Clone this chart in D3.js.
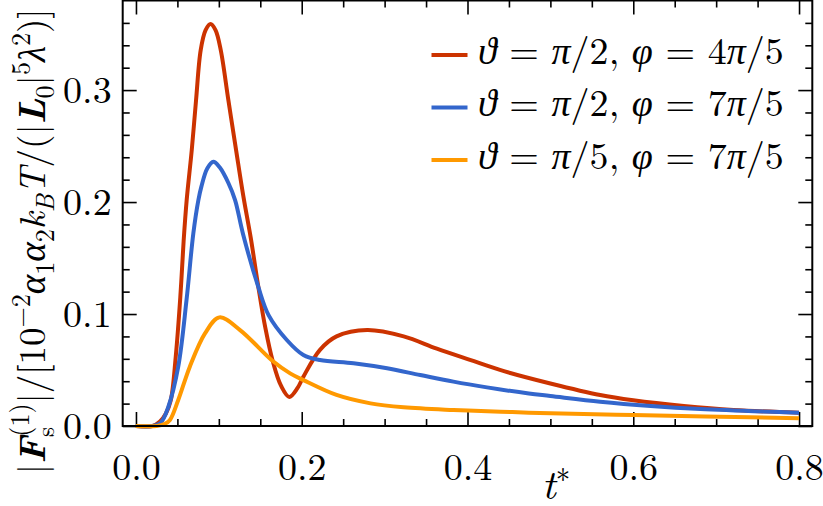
<!DOCTYPE html>
<html>
<head>
<meta charset="utf-8">
<script src="https://cdn.jsdelivr.net/npm/d3@7"></script>
<style>
  body { margin: 0; background: #fff; }
</style>
</head>
<body>
<script>
// values
const tRed = [0, 0.02, 0.029, 0.036, 0.042, 0.048, 0.0535, 0.0575, 0.0612, 0.0673, 0.0725, 0.0781, 0.084, 0.090, 0.096, 0.1023, 0.1115, 0.1208, 0.1296, 0.1385, 0.1477, 0.156, 0.165, 0.175, 0.185, 0.195, 0.202, 0.222, 0.242, 0.279, 0.323, 0.363, 0.403, 0.444, 0.5, 0.56, 0.6, 0.661, 0.721, 0.8]
const vRed = [0, 0, 0.004, 0.011, 0.023, 0.062, 0.115, 0.165, 0.2018, 0.2464, 0.291, 0.3357, 0.3535, 0.359, 0.3535, 0.3357, 0.291, 0.2464, 0.205, 0.168, 0.124, 0.088, 0.058, 0.036, 0.026, 0.034, 0.044, 0.068, 0.080, 0.0857, 0.080, 0.069, 0.059, 0.049, 0.038, 0.0277, 0.023, 0.0179, 0.0143, 0.0119]

const tBlue = [0, 0.02, 0.03, 0.039, 0.051, 0.061, 0.0692, 0.0753, 0.079, 0.086, 0.0934, 0.101, 0.1115, 0.1196, 0.129, 0.1477, 0.16, 0.182, 0.202, 0.222, 0.2625, 0.303, 0.343, 0.383, 0.4235, 0.474, 0.5, 0.56, 0.621, 0.681, 0.8]
const vBlue = [0, 0, 0.003, 0.017, 0.053, 0.1125, 0.172, 0.2018, 0.214, 0.230, 0.236, 0.231, 0.217, 0.2018, 0.172, 0.124, 0.099, 0.0768, 0.0634, 0.0589, 0.056, 0.0515, 0.0455, 0.0396, 0.0345, 0.029, 0.0268, 0.0217, 0.0179, 0.0152, 0.0119]

const tOrange = [0, 0.025, 0.035, 0.041, 0.051, 0.065, 0.0833, 0.1006, 0.1256, 0.165, 0.186, 0.202, 0.242, 0.283, 0.323, 0.383, 0.44, 0.474, 0.6, 0.8]
const vOrange = [0, 0, 0.002, 0.0054, 0.0232, 0.053, 0.0827, 0.097, 0.0857, 0.058, 0.047, 0.041, 0.0277, 0.0202, 0.0167, 0.0143, 0.0128, 0.0119, 0.0098, 0.0069]

const xMajor = [0, 0.2, 0.4, 0.6, 0.8]
const yMajor = [0, 0.1, 0.2, 0.3]

const series = [
  {t: tRed, v: vRed, color: '#cc3300', label: 'ϑ = π/2, φ = 4π/5'},
  {t: tBlue, v: vBlue, color: '#3366cc', label: 'ϑ = π/2, φ = 7π/5'},
  {t: tOrange, v: vOrange, color: '#ff9900', label: 'ϑ = π/5, φ = 7π/5'}
]

const W = 823, H = 506
const box = {left: 122.7, right: 812.3, top: 0.5, bottom: 426}
const FONT = '"Latin Modern Roman"'

const svg = d3.select('body').append('svg')
    .attr('width', W)
    .attr('height', H)

const x = d3.scaleLinear().domain([-0.016, 0.816]).range([box.left, box.right])
const y = d3.scaleLinear().domain([0, 0.38]).range([box.bottom, box.top])

const xMinor = d3.range(0, 0.8001, 0.05).filter(d => !xMajor.some(m => Math.abs(m - d) < 1e-6))
const yMinor = d3.range(0, 0.38, 0.02).filter(d => !yMajor.some(m => Math.abs(m - d) < 1e-6))

const fmt = d3.format('.1f')

function styleAxis(g) {
  g.attr('font-family', null)
  g.select('.domain').remove()
  g.selectAll('line').attr('stroke', '#000').attr('stroke-width', 1.6)
  g.selectAll('text').style('font-size', '38px').attr('fill', '#000')
}

// bottom / top
svg.append('g').attr('transform', `translate(0,${box.bottom})`)
  .call(d3.axisBottom(x).tickValues(xMajor).tickSize(-14).tickPadding(27).tickFormat(fmt))
  .call(styleAxis)
svg.append('g').attr('transform', `translate(0,${box.bottom})`)
  .call(d3.axisBottom(x).tickValues(xMinor).tickSize(-7).tickFormat(''))
  .call(styleAxis)
svg.append('g').attr('transform', `translate(0,${box.top})`)
  .call(d3.axisTop(x).tickValues(xMajor).tickSize(-14).tickFormat(''))
  .call(styleAxis)
svg.append('g').attr('transform', `translate(0,${box.top})`)
  .call(d3.axisTop(x).tickValues(xMinor).tickSize(-7).tickFormat(''))
  .call(styleAxis)

// left / right
svg.append('g').attr('transform', `translate(${box.left},0)`)
  .call(d3.axisLeft(y).tickValues(yMajor).tickSize(-14).tickPadding(11).tickFormat(fmt))
  .call(styleAxis)
svg.append('g').attr('transform', `translate(${box.left},0)`)
  .call(d3.axisLeft(y).tickValues(yMinor).tickSize(-7).tickFormat(''))
  .call(styleAxis)
svg.append('g').attr('transform', `translate(${box.right},0)`)
  .call(d3.axisRight(y).tickValues(yMajor).tickSize(-14).tickFormat(''))
  .call(styleAxis)
svg.append('g').attr('transform', `translate(${box.right},0)`)
  .call(d3.axisRight(y).tickValues(yMinor).tickSize(-7).tickFormat(''))
  .call(styleAxis)

// curves
const line = d3.line()
    .x(d => x(d[0]))
    .y(d => Math.min(y(d[1]), box.bottom))
    .curve(d3.curveCatmullRom.alpha(0.5))

series.forEach(s => {
  svg.append('path')
    .datum(s.t.map((t, i) => [t, s.v[i]]))
    .attr('fill', 'none')
    .attr('stroke', s.color)
    .attr('stroke-width', 4)
    .attr('stroke-linejoin', 'round')
    .attr('d', line)
})

// frame
svg.append('rect')
  .attr('x', box.left).attr('y', box.top)
  .attr('width', box.right - box.left).attr('height', box.bottom - box.top)
  .attr('fill', 'none').attr('stroke', '#000').attr('stroke-width', 2)

// legend: greek letters italic, digits and signs upright (math style)
const leg = svg.append('g')
series.forEach((s, i) => {
  const yy = 55 + i * 52.5
  leg.append('line')
    .attr('x1', 431.5).attr('x2', 467.5)
    .attr('y1', yy).attr('y2', yy)
    .attr('stroke', s.color).attr('stroke-width', 4)
  const tx = leg.append('text')
    .attr('x', 478).attr('y', yy + 8.5)
    .attr('xml:space', 'preserve')
    .style('font-size', '38px')
  s.label.split('').forEach(c => {
    tx.append('tspan')
      .style('font-style', /[α-ωϑ]/.test(c) ? 'italic' : 'normal')
      .text(c)
  })
})

// x label
const xl = svg.append('text')
  .attr('x', 556).attr('y', 499)
  .attr('text-anchor', 'middle')
  .style('font-size', '42px')
xl.append('tspan').style('font-style', 'italic').text('t')
xl.append('tspan').attr('dy', -17).style('font-size', '29px').text('∗')

// y label
const yl = svg.append('text')
  .attr('transform', `translate(45,${(box.top + box.bottom) / 2 + 28}) rotate(-90)`)
  .attr('text-anchor', 'middle')
  .style('font-size', '37px')
yl.append('tspan').text('|')
yl.append('tspan').style('font-style', 'italic').style('font-weight', 'bold').text('F')
yl.append('tspan').attr('dy', 9).style('font-size', '26px').text('s')
yl.append('tspan').attr('dx', -10).attr('dy', -25).style('font-size', '26px').text('(1)')
yl.append('tspan').attr('dy', 16).text('|/[10')
yl.append('tspan').attr('dy', -15).style('font-size', '26px').text('−2')
yl.append('tspan').attr('dy', 15).style('font-style', 'italic').text('α')
yl.append('tspan').attr('dy', 9).style('font-size', '26px').text('1')
yl.append('tspan').attr('dy', -9).style('font-style', 'italic').text('α')
yl.append('tspan').attr('dy', 9).style('font-size', '26px').text('2')
yl.append('tspan').attr('dy', -9).style('font-style', 'italic').text('k')
yl.append('tspan').attr('dy', 9).style('font-size', '26px').style('font-style', 'italic').text('B')
yl.append('tspan').attr('dy', -9).style('font-style', 'italic').text('T')
yl.append('tspan').text('/(|')
yl.append('tspan').style('font-style', 'italic').style('font-weight', 'bold').text('L')
yl.append('tspan').attr('dy', 9).style('font-size', '26px').text('0')
yl.append('tspan').attr('dy', -9).text('|')
yl.append('tspan').attr('dy', -15).style('font-size', '26px').text('5')
yl.append('tspan').attr('dy', 15).style('font-style', 'italic').text('λ')
yl.append('tspan').attr('dy', -15).style('font-size', '26px').text('2')
yl.append('tspan').attr('dy', 15).text(')]')

svg.selectAll('text').style('font-family', FONT)
</script>
</body>
</html>
